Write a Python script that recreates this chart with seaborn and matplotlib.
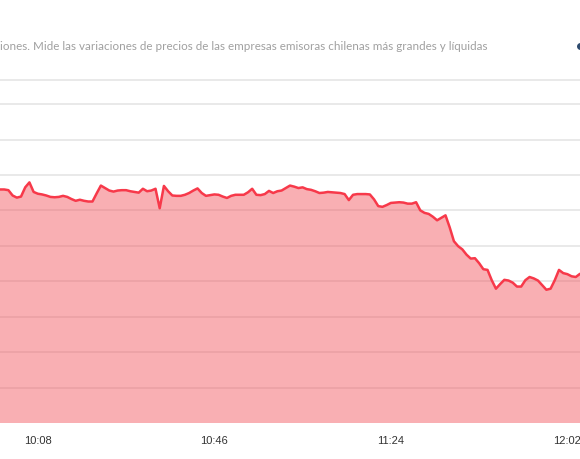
"""
IPSA intradía - recreación del gráfico de área
"""

import numpy as np
import pandas as pd
import matplotlib
matplotlib.use("Agg")
import matplotlib.pyplot as plt
from matplotlib.lines import Line2D
import seaborn as sns

# Datos (un punto por marca del eje x)
ipsa_values = [
    5765.9, 5765.9, 5765.7, 5764.2, 5763.6, 5763.9, 5766.5, 5767.9, 5765.2, 5764.7,
    5764.5, 5764.2, 5763.8, 5763.7, 5763.8, 5764.1, 5763.8, 5763.2, 5762.7, 5763.0,
    5762.7, 5762.5, 5762.5, 5764.8, 5767.0, 5766.3, 5765.6, 5765.3, 5765.6, 5765.7,
    5765.7, 5765.4, 5765.2, 5765.0, 5766.1, 5765.4, 5765.6, 5766.1, 5760.6, 5766.9,
    5765.4, 5764.2, 5764.1, 5764.1, 5764.4, 5764.9, 5765.6, 5766.2, 5764.9, 5764.1,
    5764.3, 5764.5, 5764.4, 5763.9, 5763.5, 5764.1, 5764.4, 5764.4, 5764.4, 5765.1,
    5766.1, 5764.4, 5764.3, 5764.6, 5765.5, 5764.9, 5765.4, 5765.6, 5766.3, 5767.0,
    5766.7, 5766.3, 5766.5, 5766.0, 5765.8, 5765.4, 5764.9, 5765.0, 5765.2, 5765.1,
    5765.0, 5764.9, 5764.6, 5762.9, 5764.4, 5764.6, 5764.6, 5764.6, 5764.5, 5763.1,
    5761.2, 5761.0, 5761.5, 5762.1, 5762.2, 5762.3, 5762.2, 5761.9, 5761.9, 5762.3,
    5760.0, 5759.3, 5759.0, 5758.2, 5757.2, 5757.9, 5758.6, 5755.2, 5751.3, 5749.9,
    5749.0, 5747.5, 5746.4, 5746.5, 5745.1, 5743.4, 5743.2, 5740.3, 5737.9, 5739.2,
    5740.4, 5740.2, 5739.6, 5738.5, 5738.5, 5740.3, 5741.2, 5740.8, 5740.2, 5738.9,
    5737.6, 5737.9, 5740.3, 5743.2, 5742.3, 5742.0, 5741.4, 5741.2, 5742.1,
]
tick_positions = [9, 51, 93, 135]
tick_labels = ["10:08", "10:46", "11:24", "12:02"]
grid_levels = [5710, 5720, 5730, 5740, 5750, 5760, 5770, 5780, 5790]
y_floor = 5700

header_text = ("iones. Mide las variaciones de precios de las empresas "
               "emisoras chilenas más grandes y líquidas")

df = pd.DataFrame({"idx": np.arange(len(ipsa_values)), "ipsa": ipsa_values})

sns.set_style("white")
plt.rcParams["font.family"] = ["Lato", "DejaVu Sans"]

W, H = 580, 460
fig = plt.figure(figsize=(W / 100, H / 100), dpi=100)
ax = fig.add_axes([0, (H - 424) / H, 1, (424 - 104) / H])

# grid first, area drawn semi-transparent on top
for g in grid_levels:
    ax.axhline(g, color="#e3e3e3", lw=1.1, zorder=0)

ax.fill_between(df["idx"], df["ipsa"], y_floor, color="#f24e57", alpha=0.45,
                lw=0, zorder=1)
sns.lineplot(data=df, x="idx", y="ipsa", ax=ax, color="#f7394a", lw=1.8,
             zorder=2)

ax.set_xlim(0, len(ipsa_values) - 1)
ax.set_ylim(y_floor, 5790.3)
ax.set_xlabel("")
ax.set_ylabel("")
ax.set_yticks([])
ax.set_xticks(tick_positions)
ax.set_xticklabels(tick_labels, family=["Liberation Sans", "DejaVu Sans"])
ax.set_xticks(df["idx"], minor=True)
ax.tick_params(axis="x", which="both", length=3, width=0.8, color="#b5b5b5",
               direction="out", pad=6, labelsize=8, labelcolor="#333333")
for side in ["top", "right", "left", "bottom"]:
    ax.spines[side].set_visible(False)

# header line, description text and the cut-off info icon
fig.add_artist(Line2D([0, 1], [1 - 81 / H, 1 - 81 / H], color="#e3e3e3",
                      lw=1.1, transform=fig.transFigure))
fig.text(0.0, 1 - 46 / H, header_text, fontsize=8.4, color="#a0a0a0",
         ha="left", va="center")
fig.add_artist(Line2D([1.0], [1 - 47 / H], marker="o", markersize=4,
                      color="#2d4a6e", lw=0, transform=fig.transFigure))

fig.savefig("out.png", dpi=100)
